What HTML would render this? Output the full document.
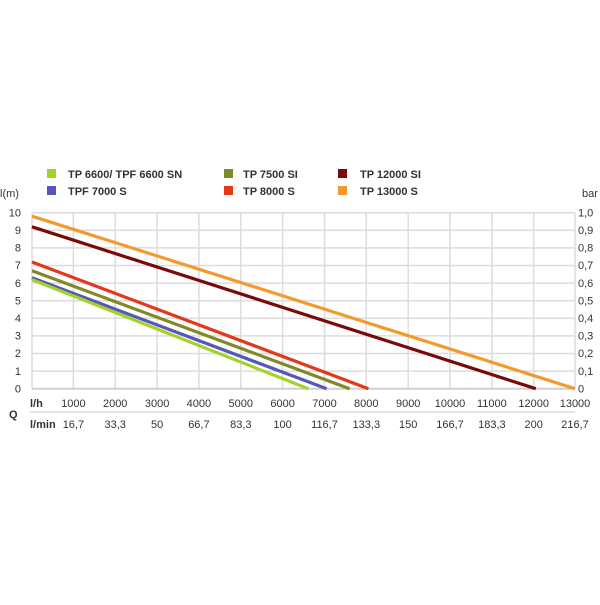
<!DOCTYPE html>
<html><head><meta charset="utf-8"><style>
body{margin:0;background:#fff;}
svg text{font-family:"Liberation Sans",sans-serif;fill:#333;}
</style></head><body>
<svg width="600" height="600" viewBox="0 0 600 600" xmlns="http://www.w3.org/2000/svg">
<g stroke="#dcdcdc" stroke-width="1.5">
<line x1="32" y1="212.7" x2="575" y2="212.7"/><line x1="32" y1="230.3" x2="575" y2="230.3"/><line x1="32" y1="247.9" x2="575" y2="247.9"/><line x1="32" y1="265.5" x2="575" y2="265.5"/><line x1="32" y1="283.1" x2="575" y2="283.1"/><line x1="32" y1="300.7" x2="575" y2="300.7"/><line x1="32" y1="318.3" x2="575" y2="318.3"/><line x1="32" y1="335.9" x2="575" y2="335.9"/><line x1="32" y1="353.5" x2="575" y2="353.5"/><line x1="32" y1="371.1" x2="575" y2="371.1"/>
<line x1="32" y1="212.7" x2="32" y2="388.7"/><line x1="73.4" y1="212.7" x2="73.4" y2="388.7"/><line x1="115.2" y1="212.7" x2="115.2" y2="388.7"/><line x1="157.1" y1="212.7" x2="157.1" y2="388.7"/><line x1="198.9" y1="212.7" x2="198.9" y2="388.7"/><line x1="240.8" y1="212.7" x2="240.8" y2="388.7"/><line x1="282.6" y1="212.7" x2="282.6" y2="388.7"/><line x1="324.5" y1="212.7" x2="324.5" y2="388.7"/><line x1="366.3" y1="212.7" x2="366.3" y2="388.7"/><line x1="408.2" y1="212.7" x2="408.2" y2="388.7"/><line x1="450" y1="212.7" x2="450" y2="388.7"/><line x1="491.9" y1="212.7" x2="491.9" y2="388.7"/><line x1="533.7" y1="212.7" x2="533.7" y2="388.7"/><line x1="575" y1="212.7" x2="575" y2="388.7"/>
<line x1="30" y1="412" x2="575" y2="412"/>
</g>
<line x1="32" y1="388.7" x2="575" y2="388.7" stroke="#cfcfcf" stroke-width="2"/>
<g stroke-width="3.2" fill="none">
<line x1="32" y1="216.2" x2="575" y2="388.7" stroke="#f39a2e"/>
<line x1="32" y1="226.8" x2="535.8" y2="388.7" stroke="#7a0a0a"/>
<line x1="32" y1="262" x2="368.4" y2="388.7" stroke="#e2391b"/>
<line x1="32" y1="270.8" x2="349.6" y2="388.7" stroke="#7f8a27"/>
<line x1="32" y1="277.8" x2="326.6" y2="388.7" stroke="#5558b8"/>
<line x1="32" y1="279.6" x2="308.2" y2="388.7" stroke="#a5d22a"/>
</g>
<g font-size="11">
<g text-anchor="end">
<text x="21" y="216.5">10</text><text x="21" y="234">9</text><text x="21" y="251.6">8</text><text x="21" y="269.2">7</text><text x="21" y="286.8">6</text><text x="21" y="304.4">5</text><text x="21" y="322">4</text><text x="21" y="339.6">3</text><text x="21" y="357.2">2</text><text x="21" y="374.8">1</text><text x="21" y="392.4">0</text>
</g>
<text x="578" y="216.5">1,0</text><text x="578" y="234">0,9</text><text x="578" y="251.6">0,8</text><text x="578" y="269.2">0,7</text><text x="578" y="286.8">0,6</text><text x="578" y="304.4">0,5</text><text x="578" y="322">0,4</text><text x="578" y="339.6">0,3</text><text x="578" y="357.2">0,2</text><text x="578" y="374.8">0,1</text><text x="578" y="392.4">0</text>
<text x="0" y="197">l(m)</text><text x="582" y="197">bar</text>
<g text-anchor="middle">
<text x="73.4" y="407">1000</text><text x="115.2" y="407">2000</text><text x="157.1" y="407">3000</text><text x="198.9" y="407">4000</text><text x="240.8" y="407">5000</text><text x="282.6" y="407">6000</text><text x="324.5" y="407">7000</text><text x="366.3" y="407">8000</text><text x="408.2" y="407">9000</text><text x="450" y="407">10000</text><text x="491.9" y="407">11000</text><text x="533.7" y="407">12000</text><text x="575" y="407">13000</text>
<text x="73.4" y="428">16,7</text><text x="115.2" y="428">33,3</text><text x="157.1" y="428">50</text><text x="198.9" y="428">66,7</text><text x="240.8" y="428">83,3</text><text x="282.6" y="428">100</text><text x="324.5" y="428">116,7</text><text x="366.3" y="428">133,3</text><text x="408.2" y="428">150</text><text x="450" y="428">166,7</text><text x="491.9" y="428">183,3</text><text x="533.7" y="428">200</text><text x="575" y="428">216,7</text>
</g>
<text x="30" y="407" font-weight="bold">l/h</text>
<text x="30" y="428" font-weight="bold">l/min</text>
<text x="9" y="418" font-weight="bold">Q</text>
</g>
<g font-size="11" font-weight="bold">
<rect x="47" y="169" width="9" height="9" fill="#a5d22a"/><text x="68" y="178">TP 6600/ TPF 6600 SN</text>
<rect x="47" y="186" width="9" height="9" fill="#5558b8"/><text x="68" y="195">TPF 7000 S</text>
<rect x="224" y="169" width="9" height="9" fill="#7f8a27"/><text x="243" y="178">TP 7500 SI</text>
<rect x="224" y="186" width="9" height="9" fill="#e2391b"/><text x="243" y="195">TP 8000 S</text>
<rect x="338" y="169" width="9" height="9" fill="#7a0a0a"/><text x="360" y="178">TP 12000 SI</text>
<rect x="338" y="186" width="9" height="9" fill="#f39a2e"/><text x="360" y="195">TP 13000 S</text>
</g>
</svg>
</body></html>
